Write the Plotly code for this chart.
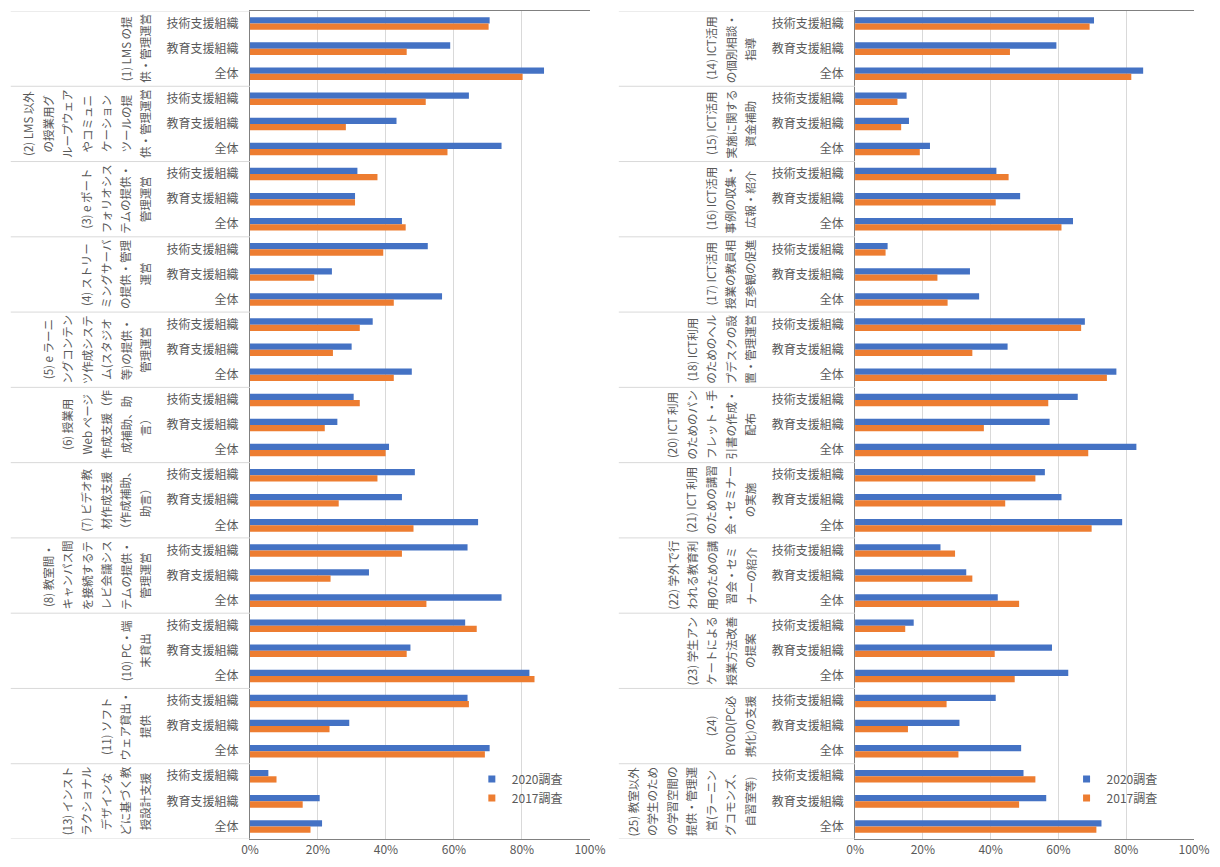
import plotly.graph_objects as go

FONT = "Noto Sans CJK JP"
GRAY = "#595959"

sub_labels = ["技術支援組織", "教育支援組織", "全体"]
series_names = ["2020調査", "2017調査"]
x_ticks = [0, 20, 40, 60, 80, 100]
x_tick_labels = ["0%", "20%", "40%", "60%", "80%", "100%"]

left_groups = [
    ["(1) LMS の提", "供・管理運営"],
    ["(2) LMS 以外", "の授業用グ", "ループウェア", "やコミュニ", "ケーション", "ツールの提", "供・管理運営"],
    ["(3) e ポート", "フォリオシス", "テムの提供・", "管理運営"],
    ["(4) ストリー", "ミングサーバ", "の提供・管理", "運営"],
    ["(5) e ラーニ", "ングコンテン", "ツ作成システ", "ム(スタジオ", "等)の提供・", "管理運営"],
    ["(6) 授業用", "Web ページ", "作成支援（作", "成補助、助", "言）"],
    ["(7) ビデオ教", "材作成支援", "（作成補助、", "助言）"],
    ["(8) 教室間・", "キャンパス間", "を接続するテ", "レビ会議シス", "テムの提供・", "管理運営"],
    ["(10) PC・端", "末貸出"],
    ["(11) ソフト", "ウェア貸出・", "提供"],
    ["(13) インスト", "ラクショナル", "デザインな", "どに基づく教", "授設計支援"],
]
right_groups = [
    ["(14) ICT活用", "の個別相談・", "指導"],
    ["(15) ICT活用", "実施に関する", "資金補助"],
    ["(16) ICT活用", "事例の収集・", "広報・紹介"],
    ["(17) ICT活用", "授業の教員相", "互参観の促進"],
    ["(18) ICT利用", "のためのヘル", "プデスクの設", "置・管理運営"],
    ["(20) ICT 利用", "のためのパン", "フレット・手", "引書の作成・", "配布"],
    ["(21) ICT 利用", "のための講習", "会・セミナー", "の実施"],
    ["(22) 学外で行", "われる教育利", "用のための講", "習会・セミ", "ナーの紹介"],
    ["(23) 学生アン", "ケートによる", "授業方法改善", "の提案"],
    ["(24)", "BYOD(PC必", "携化)の支援"],
    ["(25) 教室以外", "の学生のため", "の学習空間の", "提供・管理運", "営(ラーニン", "グコモンズ、", "自習室等)"],
]

left_2020 = [70.5, 58.9, 86.5, 64.4, 43.1, 74.0, 31.6, 30.9, 44.7, 52.3, 24.1, 56.5,
             36.1, 29.9, 47.6, 30.5, 25.7, 40.9, 48.5, 44.7, 67.1, 64.0, 35.0, 74.0,
             63.3, 47.2, 82.2, 64.0, 29.2, 70.5, 5.4, 20.5, 21.2]
left_2017 = [70.2, 46.1, 80.2, 51.7, 28.2, 58.1, 37.5, 30.9, 45.8, 39.2, 18.9, 42.3,
             32.3, 24.4, 42.3, 32.3, 22.0, 39.9, 37.5, 26.1, 48.1, 44.7, 23.7, 51.9,
             66.7, 46.1, 83.7, 64.4, 23.4, 69.1, 7.8, 15.5, 17.8]
right_2020 = [70.5, 59.4, 85.0, 15.2, 15.9, 22.1, 41.7, 48.7, 64.3, 9.6, 33.9, 36.6,
              67.8, 45.0, 77.1, 65.7, 57.4, 83.0, 56.0, 60.9, 78.8, 25.2, 32.8, 42.1,
              17.3, 58.1, 62.9, 41.5, 30.8, 49.0, 49.7, 56.4, 72.7]
right_2017 = [69.2, 45.7, 81.5, 12.5, 13.6, 19.1, 45.3, 41.5, 60.9, 9.0, 24.3, 27.3,
              66.7, 34.6, 74.3, 57.0, 38.0, 68.8, 53.2, 44.3, 69.8, 29.5, 34.6, 48.4,
              14.8, 41.2, 47.1, 27.0, 15.6, 30.5, 53.2, 48.4, 71.2]

colors = ["#4472C4", "#ED7D31"]

fig = go.Figure()

panels = [
    (left_groups, [left_2020, left_2017], "x", "y", "legend"),
    (right_groups, [right_2020, right_2017], "x2", "y2", "legend2"),
]

for groups, vals, xa, ya, lg in panels:
    n = len(groups) * len(sub_labels)
    pos = list(range(n))
    for name, v, c in zip(series_names, vals, colors):
        fig.add_trace(go.Bar(
            x=v, y=pos, orientation="h", name=name, xaxis=xa, yaxis=ya,
            marker=dict(color=c, line=dict(width=0)), showlegend=False,
        ))
    for name, c in zip(series_names, colors):
        fig.add_trace(go.Scatter(
            x=[None], y=[None], mode="markers", name=name, xaxis=xa, yaxis=ya,
            marker=dict(symbol="square", size=7, color=c), legend=lg,
        ))

width, height = 1220, 867
ml, mr, mt, mb = 250, 23, 10, 21
pw = width - ml - mr
left_px = (250, 591)
right_px = (857, 1197)
d1 = [(left_px[0] - ml) / pw, (left_px[1] - ml) / pw]
d2 = [(right_px[0] - ml) / pw, (right_px[1] - ml) / pw]

axis_common = dict(
    range=[0, 100], tickvals=x_ticks, ticktext=x_tick_labels,
    showgrid=True, gridcolor="#D9D9D9", gridwidth=1,
    showline=True, linecolor="#808080", linewidth=1, mirror=True,
    zeroline=False, ticks="",
    tickfont=dict(family=FONT, size=12, color=GRAY),
)

n_left = len(left_groups) * 3
n_right = len(right_groups) * 3
yaxis_common = dict(
    showgrid=False, zeroline=False, showline=True, linecolor="#808080",
    linewidth=1, ticks="", ticklabelstandoff=8,
    tickfont=dict(family=FONT, size=12, color=GRAY),
)

legend_common = dict(
    xanchor="left", yanchor="top",
    font=dict(family=FONT, size=12, color=GRAY),
    bgcolor="rgba(0,0,0,0)", tracegroupgap=0, itemwidth=30,
)

fig.update_layout(
    width=width, height=height,
    margin=dict(l=ml, r=mr, t=mt, b=mb),
    plot_bgcolor="white", paper_bgcolor="white",
    barmode="group", bargap=0.5, bargroupgap=0.0,
    font=dict(family=FONT, size=12, color=GRAY),
    xaxis=dict(domain=d1, anchor="y", **axis_common),
    xaxis2=dict(domain=d2, anchor="y2", **axis_common),
    yaxis=dict(anchor="x", range=[n_left - 0.5, -0.5],
               tickvals=list(range(n_left)), ticktext=sub_labels * len(left_groups),
               **yaxis_common),
    yaxis2=dict(anchor="x2", range=[n_right - 0.5, -0.5],
                tickvals=list(range(n_right)), ticktext=sub_labels * len(right_groups),
                **yaxis_common),
    legend=dict(x=0.235, y=0.09, **legend_common),
    legend2=dict(x=0.865, y=0.09, **legend_common),
    showlegend=True,
)

shapes = []
annotations = []
line_step = 19.5
for groups, xa, ya, left_start_px, axis_px in [
    (left_groups, "x", "y", 10, left_px),
    (right_groups, "x2", "y2", 620, right_px),
]:
    span = axis_px[1] - axis_px[0]
    x0 = (left_start_px - axis_px[0]) / span
    for k in range(len(groups) + 1):
        yb = 3 * k - 0.5
        shapes.append(dict(type="line", xref=f"{xa} domain", yref=ya,
                           x0=x0, x1=0, y0=yb, y1=yb,
                           line=dict(color="#D9D9D9", width=1)))
    for k, lines in enumerate(groups):
        nl = len(lines)
        for i, t in enumerate(lines):
            annotations.append(dict(
                xref=f"{xa} domain", yref=ya, x=0, y=3 * k + 1,
                xanchor="center", yanchor="middle",
                xshift=-105 - (nl - 1 - i) * line_step,
                text=t, textangle=-90, showarrow=False,
                font=dict(family=FONT, size=11.5, color=GRAY),
            ))

fig.update_layout(shapes=shapes, annotations=annotations)
fig.write_html("out.html", config={"displayModeBar": False},
               post_script="document.body.style.margin='0';")
